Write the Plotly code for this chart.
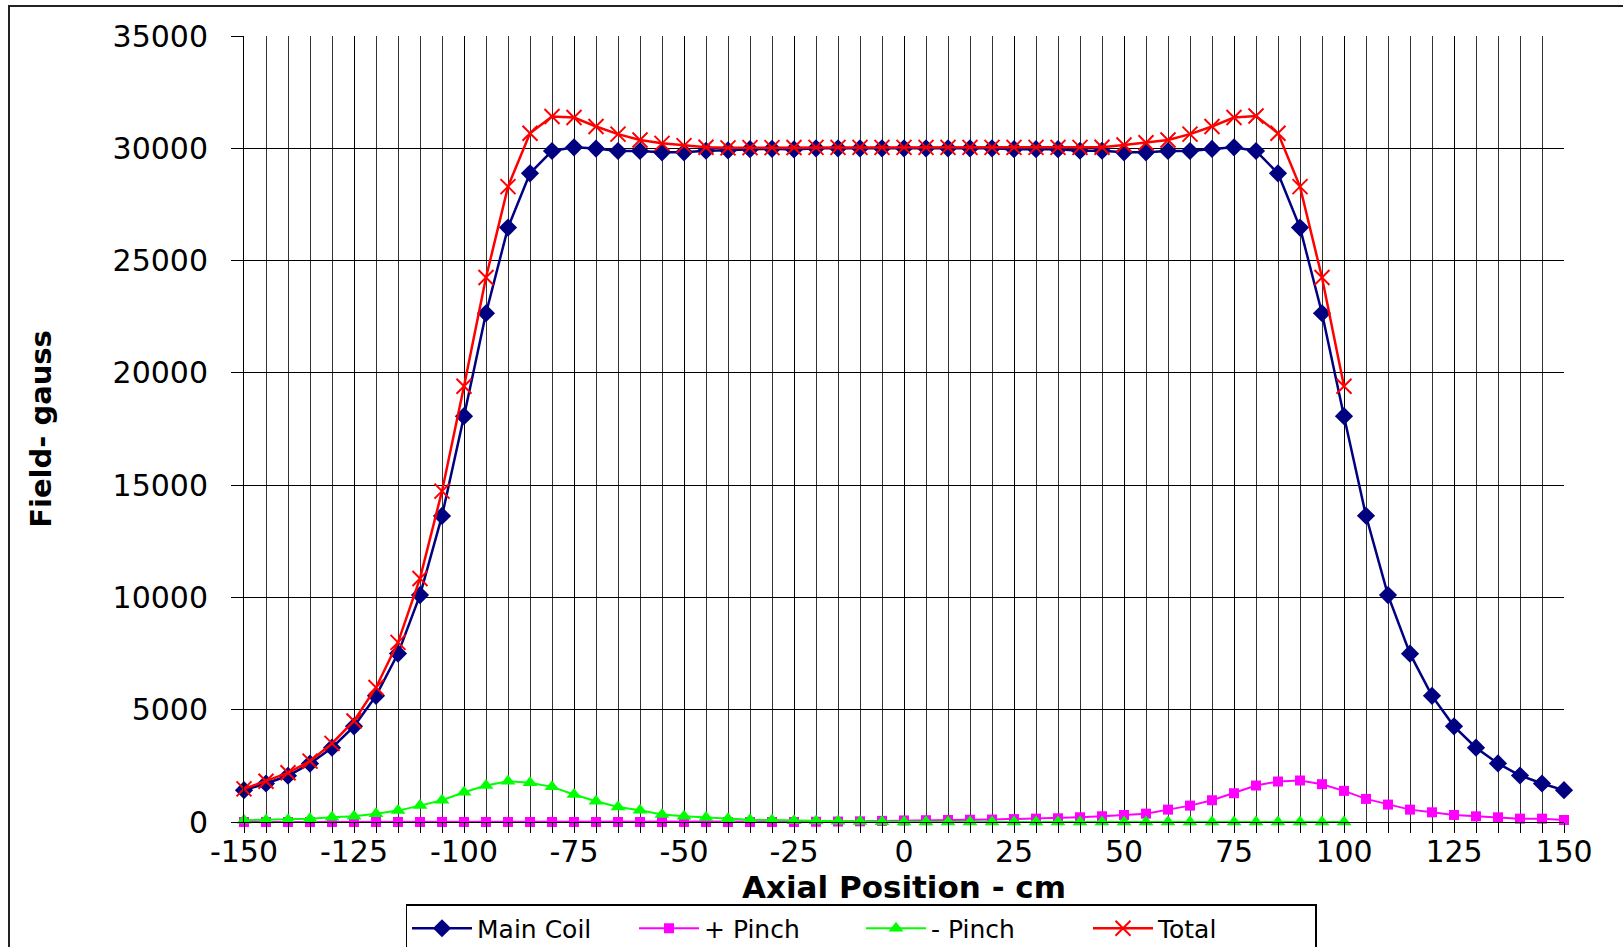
import plotly.graph_objects as go

# ---------------- data ----------------
axial_cm = list(range(-150, 151, 5))

main_coil = [1416, 1714, 2060, 2600, 3308, 4261, 5617, 7500, 10104, 13630,
             18072, 22655, 26469, 28887, 29880, 30045, 29985, 29880, 29880, 29820,
             29820, 29890, 29910, 29960, 29975, 29950, 30000, 30000, 30000, 30000,
             30000, 30000, 30000, 30000, 30000, 29960, 29960, 29960, 29890, 29890,
             29820, 29820, 29880, 29880, 29970, 30045, 29880, 28887, 26469, 22655,
             18072, 13636, 10104, 7495, 5617, 4261, 3308, 2608, 2071, 1714, 1416]

plus_pinch = [0, 0, 0, 0, 0, 0, 0, 0, 0, 0,
              0, 0, 0, 0, 0, 0, 0, 0, 0, 0,
              0, 0, 0, 0, 0, 0, 10, 20, 30, 50,
              70, 80, 90, 100, 110, 130, 150, 165, 210, 255,
              313, 372, 551, 730, 969, 1281, 1624, 1803, 1848, 1684,
              1386, 1028, 775, 551, 432, 313, 253, 209, 149, 149, 89]

minus_pinch = [75, 89, 104, 149, 209, 253, 372, 507, 730, 969,
               1326, 1624, 1818, 1743, 1565, 1222, 924, 671, 520, 335,
               260, 200, 149, 100, 90, 60, 40, 30, 20, 10,
               0, 0, 0, 0, 0, 0, 0, 0, 0, 0,
               0, 0, 0, 0, 0, 0, 0, 0, 0, 0,
               0, None, None, None, None, None, None, None, None, None, None]

total = [1475, 1818, 2190, 2712, 3502, 4500, 5990, 8000, 10846, 14733,
         19406, 24243, 28293, 30670, 31415, 31370, 30970, 30630, 30370, 30220,
         30120, 30045, 30020, 30030, 30030, 30035, 30040, 30040, 30040, 30040,
         30040, 30040, 30040, 30040, 30040, 30040, 30040, 30040, 30040, 30045,
         30150, 30250, 30370, 30630, 30970, 31370, 31440, 30670, 28293, 24243,
         19406, None, None, None, None, None, None, None, None, None, None]

x_tick_vals = [-150, -125, -100, -75, -50, -25, 0, 25, 50, 75, 100, 125, 150]
x_tick_text = ["-150", "-125", "-100", "-75", "-50", "-25", "0", "25", "50", "75", "100", "125", "150"]
y_tick_vals = [0, 5000, 10000, 15000, 20000, 25000, 30000, 35000]
y_tick_text = ["0", "5000", "10000", "15000", "20000", "25000", "30000", "35000"]

series_names = ["Main Coil", "+ Pinch", "- Pinch", "Total"]

# ---------------- figure ----------------
W, H = 1623, 947
L, R, T, B = 244, 59, 36, 125
PW, PH = W - L - R, H - T - B

def px_to_paper_x(px):
    return (px - L) / PW

def px_to_paper_y(py):
    return (H - B - py) / PH

FONT = "DejaVu Sans"

fig = go.Figure()

fig.add_trace(go.Scatter(
    x=axial_cm, y=main_coil, name=series_names[0], mode="lines+markers",
    line=dict(color="#000080", width=2.5),
    marker=dict(symbol="diamond", size=14, color="#000080"),
    cliponaxis=False))

fig.add_trace(go.Scatter(
    x=axial_cm, y=plus_pinch, name=series_names[1], mode="lines+markers",
    line=dict(color="#FF00FF", width=2),
    marker=dict(symbol="square", size=10, color="#FF00FF"),
    cliponaxis=False))

fig.add_trace(go.Scatter(
    x=axial_cm, y=minus_pinch, name=series_names[2], mode="lines+markers",
    line=dict(color="#00FF00", width=2),
    marker=dict(symbol="triangle-up", size=13, color="#00FF00"),
    cliponaxis=False))

fig.add_trace(go.Scatter(
    x=axial_cm, y=total, name=series_names[3], mode="lines+markers",
    line=dict(color="#FF0000", width=2.5),
    marker=dict(symbol="x-thin", size=15, color="#FF0000",
                line=dict(color="#FF0000", width=2)),
    cliponaxis=False))

fig.update_layout(
    width=W, height=H,
    margin=dict(l=L, r=R, t=T, b=B, autoexpand=False),
    paper_bgcolor="white", plot_bgcolor="white",
    font=dict(family=FONT, size=29, color="black"),
    showlegend=True,
    legend=dict(
        orientation="h",
        x=px_to_paper_x(861), xanchor="center",
        y=px_to_paper_y(904), yanchor="top",
        bordercolor="black", borderwidth=1.5, bgcolor="white",
        font=dict(family=FONT, size=25, color="black"),
        itemwidth=60, entrywidth=152, entrywidthmode="pixels",
    ),
    xaxis=dict(
        range=[-150, 150], tickmode="array", tickvals=x_tick_vals, ticktext=x_tick_text,
        showgrid=True, gridcolor="black", gridwidth=1,
        ticks="outside", ticklen=10, tickcolor="black", tickwidth=1,
        showline=True, linecolor="black", linewidth=1, zeroline=False,
        minor=dict(dtick=5, tick0=0, showgrid=True, gridcolor="#333333", gridwidth=1,
                   ticks="outside", ticklen=10, tickcolor="black"),
        ticklabelstandoff=-7,
        tickfont=dict(family=FONT, size=30, color="black"),
        title=dict(text="Axial Position - cm", standoff=8,
                   font=dict(family=FONT, size=31, color="black", weight="bold")),
        automargin=False,
    ),
    yaxis=dict(
        range=[0, 35000], tickmode="array", tickvals=y_tick_vals, ticktext=y_tick_text,
        showgrid=True, gridcolor="black", gridwidth=1,
        ticks="outside", ticklen=12, tickcolor="black",
        showline=True, linecolor="black", linewidth=1, zeroline=False,
        ticklabelstandoff=17,
        tickfont=dict(family=FONT, size=30, color="black"),
        title=dict(text="Field- gauss", standoff=52,
                   font=dict(family=FONT, size=29, color="black", weight="bold")),
        automargin=False,
    ),
)

# outer chart-area frame (only left and top edges are inside the picture)
fig.add_shape(type="rect", xref="paper", yref="paper",
              x0=px_to_paper_x(9), x1=px_to_paper_x(1660),
              y0=px_to_paper_y(980), y1=px_to_paper_y(6),
              line=dict(color="#222222", width=2), fillcolor="rgba(0,0,0,0)", layer="above")

fig.write_html("out.html", config={"displayModeBar": False},
               post_script="document.body.style.margin='0';")
